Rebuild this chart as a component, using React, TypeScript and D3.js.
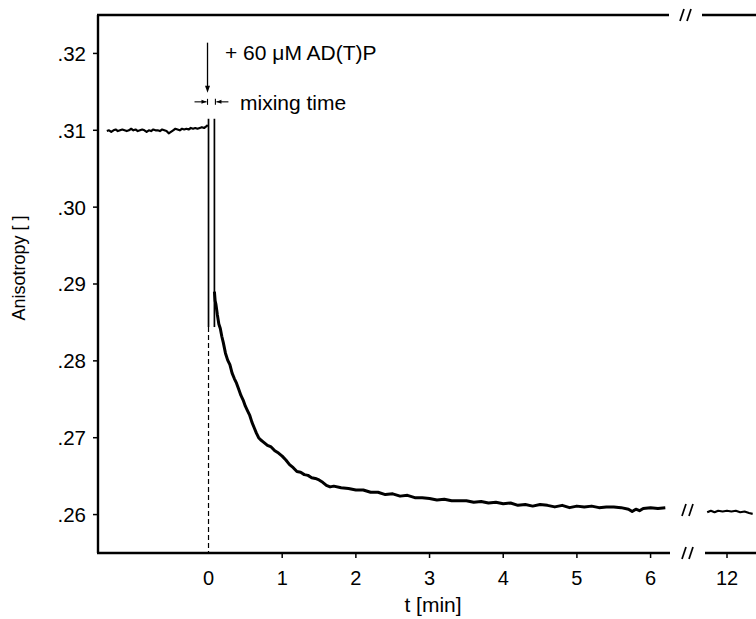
import React from 'react';
import * as d3 from 'd3';

// anisotropy trace before mixing [t (min), anisotropy]
const baseline: [number, number][] = [
  [-1.38, .3099], [-1.35, .3100], [-1.32, .3098], [-1.29, .3100], [-1.26, .3101], [-1.23, .3099],
  [-1.20, .3100], [-1.17, .3101], [-1.14, .3100], [-1.11, .3099], [-1.08, .3100], [-1.05, .3102],
  [-1.02, .3100], [-0.99, .3101], [-0.96, .3099], [-0.93, .3100], [-0.90, .3101], [-0.87, .3100],
  [-0.84, .3098], [-0.81, .3100], [-0.78, .3099], [-0.75, .3101], [-0.72, .3100], [-0.69, .3100],
  [-0.66, .3099], [-0.63, .3101], [-0.60, .3100], [-0.57, .3099], [-0.54, .3096], [-0.51, .3098],
  [-0.48, .3100], [-0.45, .3102], [-0.42, .3101], [-0.39, .3100], [-0.36, .3102], [-0.33, .3101],
  [-0.30, .3102], [-0.27, .3101], [-0.24, .3103], [-0.21, .3102], [-0.18, .3103], [-0.15, .3102],
  [-0.12, .3103], [-0.09, .3104], [-0.06, .3103], [-0.03, .3105], [-0.01, .3107],
];

// decay after adding AD(T)P
const decay: [number, number][] = [
  [0.08, .2890], [0.09, .2878], [0.10, .2874], [0.12, .2860], [0.14, .2848], [0.16, .2842],
  [0.18, .2832], [0.20, .2824], [0.23, .2810], [0.26, .2801], [0.29, .2795], [0.32, .2784],
  [0.35, .2777], [0.38, .2771], [0.41, .2763], [0.44, .2755], [0.47, .2749], [0.50, .2741],
  [0.53, .2735], [0.56, .2729], [0.59, .2720], [0.62, .2713], [0.65, .2706], [0.68, .2700],
  [0.71, .2697], [0.75, .2694], [0.80, .2690], [0.85, .2688], [0.90, .2683], [0.95, .2680],
  [1.00, .2676], [1.05, .2671], [1.10, .2665], [1.15, .2661], [1.20, .2656], [1.25, .2655],
  [1.30, .2652], [1.35, .2651], [1.40, .2648], [1.45, .2647], [1.50, .2645], [1.55, .2642],
  [1.60, .2638], [1.65, .2636], [1.70, .2637], [1.80, .2635], [1.90, .2634], [2.00, .2632],
  [2.10, .2632], [2.20, .2629], [2.30, .2629], [2.40, .2626], [2.50, .2627], [2.60, .2624],
  [2.70, .2625], [2.80, .2622], [2.90, .2622], [3.00, .2621], [3.10, .2619], [3.20, .2620],
  [3.30, .2618], [3.40, .2618], [3.50, .2618], [3.60, .2616], [3.70, .2617], [3.80, .2615],
  [3.90, .2616], [4.00, .2614], [4.10, .2615], [4.20, .2612], [4.30, .2613], [4.40, .2611],
  [4.50, .2613], [4.60, .2612], [4.70, .2610], [4.80, .2612], [4.90, .2609], [5.00, .2611],
  [5.10, .2610], [5.20, .2611], [5.30, .2609], [5.40, .2610], [5.50, .2610], [5.60, .2609],
  [5.70, .2607], [5.75, .2604], [5.80, .2607], [5.85, .2605], [5.90, .2608], [6.00, .2609],
  [6.10, .2608], [6.20, .2609],
];

// after the axis break, around 12 min
const late: [number, number][] = [
  [11.73, .2603], [11.78, .2605], [11.83, .2603], [11.88, .2605], [11.94, .2604], [12.00, .2605],
  [12.06, .2604], [12.12, .2605], [12.18, .2603], [12.24, .2604], [12.30, .2602], [12.35, .2601],
];

const yTicks = [.26, .27, .28, .29, .30, .31, .32];
const xTicks = [0, 1, 2, 3, 4, 5, 6];
const xTicksLate = [12];

const font = '"Liberation Sans", Arial, Helvetica, sans-serif';

const App = () => {
  const width = 756;
  const height = 619;
  const left = 98, top = 15, bottom = 553;

  const x = d3.scaleLinear().domain([-1.5, 6.25]).range([left, 669]);
  const x2 = d3.scaleLinear().domain([11.7, 12.45]).range([705, 760]);
  const y = d3.scaleLinear().domain([.255, .325]).range([bottom, top]);

  const line = d3.line<[number, number]>().x(d => x(d[0])).y(d => y(d[1]));
  const line2 = d3.line<[number, number]>().x(d => x2(d[0])).y(d => y(d[1]));

  const x0 = x(0);
  const x1 = x(0.08);
  const arrowY = y(.3137);

  const slashes = (cx: number, cy: number) => (
    <g stroke="#000" strokeWidth={1.7}>
      <line x1={cx - 6} y1={cy + 6} x2={cx - 2} y2={cy - 6} />
      <line x1={cx + 1} y1={cy + 6} x2={cx + 5} y2={cy - 6} />
    </g>
  );

  return (
    <svg width={width} height={height} style={{ position: 'absolute', left: 0, top: 0 }}
      fontFamily={font}>
      <rect width={width} height={height} fill="#fff" />

      {/* frame */}
      <line x1={left} y1={top} x2={left} y2={bottom} stroke="#000" strokeWidth={2.4} />
      <line x1={left - 1} y1={top} x2={669} y2={top} stroke="#000" strokeWidth={2.4} />
      <line x1={702} y1={top} x2={width} y2={top} stroke="#000" strokeWidth={2.4} />
      <line x1={left - 1} y1={bottom} x2={670} y2={bottom} stroke="#000" strokeWidth={2.4} />
      <line x1={705} y1={bottom} x2={width} y2={bottom} stroke="#000" strokeWidth={2.4} />
      {slashes(686, top)}
      {slashes(688, bottom)}
      {slashes(688, y(.2606))}

      {/* y axis */}
      {yTicks.map(t => (
        <g key={t}>
          <line x1={left - 5} x2={left} y1={y(t)} y2={y(t)} stroke="#000" strokeWidth={1.5} />
          <text x={86} y={y(t)} dy="0.36em" textAnchor="end" fontSize={20.5}>
            {d3.format('.2f')(t).replace(/^0/, '')}
          </text>
        </g>
      ))}

      {/* x axis */}
      {xTicks.map(t => (
        <g key={t}>
          {t !== 0 && <line x1={x(t)} x2={x(t)} y1={bottom} y2={bottom + 5} stroke="#000" strokeWidth={1.5} />}
          <text x={x(t)} y={585} textAnchor="middle" fontSize={20}>{t}</text>
        </g>
      ))}
      {xTicksLate.map(t => (
        <g key={t}>
          <line x1={x2(t)} x2={x2(t)} y1={bottom} y2={bottom + 5} stroke="#000" strokeWidth={1.5} />
          <text x={x2(t)} y={585} textAnchor="middle" fontSize={20}>{t}</text>
        </g>
      ))}

      <text x={433} y={612} textAnchor="middle" fontSize={21}>t [min]</text>
      <text transform={`translate(25, ${268}) rotate(-90)`} textAnchor="middle" fontSize={18}>
        Anisotropy [ ]
      </text>

      {/* mixing markers */}
      <line x1={x0} x2={x0} y1={y(.3115)} y2={y(.2844)} stroke="#000" strokeWidth={1.7} />
      <line x1={x1} x2={x1} y1={y(.3115)} y2={y(.2844)} stroke="#000" strokeWidth={1.7} />
      <line x1={x0} x2={x0} y1={y(.2844)} y2={bottom} stroke="#000" strokeWidth={1.2} strokeDasharray="5,3" />

      {/* addition arrow */}
      <line x1={x0 - 1} x2={x0 - 1} y1={y(.3214)} y2={y(.3156)} stroke="#000" strokeWidth={1.3} />
      <path d={`M${x0 - 3.5},${y(.3158)} L${x0 + 1.5},${y(.3158)} L${x0 - 1},${y(.3149)} Z`} fill="#000" />

      {/* mixing time arrows */}
      <line x1={x0 - 14} x2={x0 - 2} y1={arrowY} y2={arrowY} stroke="#000" strokeWidth={1.1} />
      <path d={`M${x0 - 2},${arrowY} l-5,-2 l0,4 Z`} fill="#000" />
      <line x1={x0 - 1} x2={x0 - 1} y1={arrowY - 3} y2={arrowY + 3} stroke="#000" strokeWidth={1.1} />
      <line x1={x1 + 2} x2={x1 + 14} y1={arrowY} y2={arrowY} stroke="#000" strokeWidth={1.1} />
      <path d={`M${x1 + 2},${arrowY} l5,-2 l0,4 Z`} fill="#000" />
      <line x1={x1 + 1} x2={x1 + 1} y1={arrowY - 3} y2={arrowY + 3} stroke="#000" strokeWidth={1.1} />

      <text x={225} y={60} fontSize={21}>+ 60 μM  AD(T)P</text>
      <text x={240} y={110} fontSize={21}>mixing time</text>

      {/* traces */}
      <path d={line(baseline) ?? ''} fill="none" stroke="#000" strokeWidth={2.2} strokeLinejoin="round" />
      <path d={line(decay) ?? ''} fill="none" stroke="#000" strokeWidth={3} strokeLinejoin="round" />
      <path d={line2(late) ?? ''} fill="none" stroke="#000" strokeWidth={2.2} strokeLinejoin="round" />
    </svg>
  );
};

export default App;
